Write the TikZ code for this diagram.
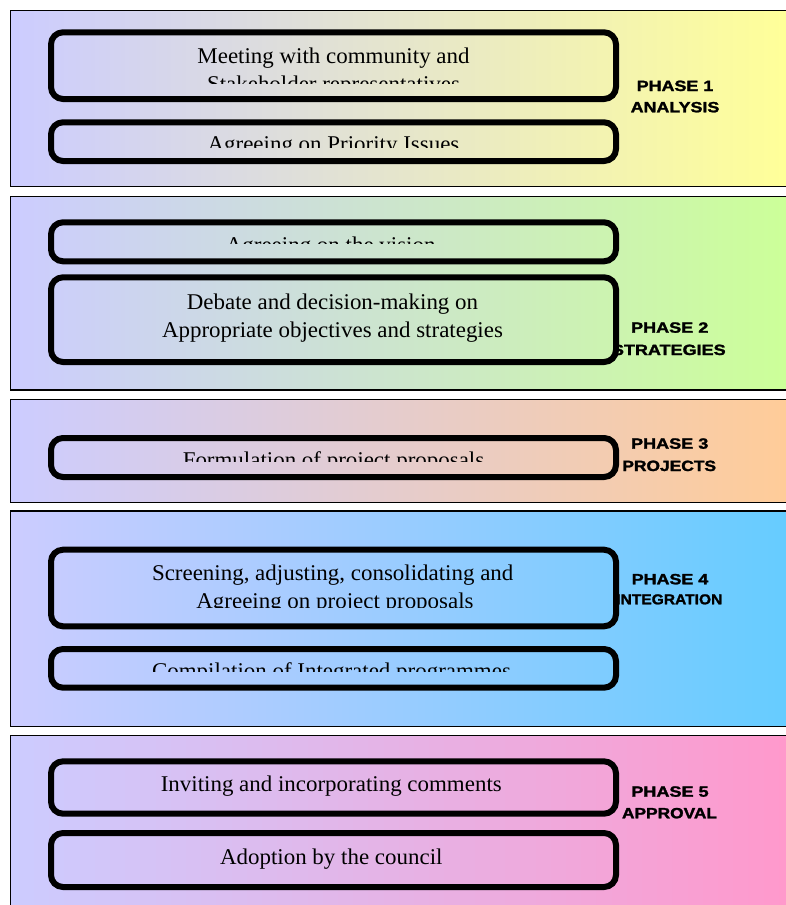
\documentclass[tikz,border=0pt]{standalone}
\usepackage{fontspec}
\usepackage{graphicx}
\setmainfont{Liberation Serif}[FakeStretch=1.02]
\newfontfamily\lblfont{Liberation Sans}[BoldFeatures={FakeBold=1.6}]
\definecolor{lav}{HTML}{CCCCFF}
\definecolor{cA}{HTML}{FFFF99}
\definecolor{cB}{HTML}{CCFF99}
\definecolor{cC}{HTML}{FFCC99}
\definecolor{cD}{HTML}{66CCFF}
\definecolor{cE}{HTML}{FF99CC}
\newcommand\panelshade[3]{%
  \shade[left color=lav,right color=#3] (10.7,#1) rectangle (786,#2);}
\newcommand\phbox[5]{%
  \begin{scope}
    \clip[rounded corners=12] (51,#1) rectangle (616,#2);
    \panelshade{#3}{#4}{#5}
  \end{scope}
  \draw[boxline] (51,#1) rectangle (616,#2);}
\newcommand\lbltext[3]{\resizebox{#1pt}{#2pt}{\lblfont\bfseries #3}}
\begin{document}
\begin{tikzpicture}[x=1pt,y=-1pt,
  boxline/.style={line width=6pt,rounded corners=12},
  panelline/.style={line width=1.3pt,black},
  txt/.style={inner sep=0pt,anchor=base,font=\fontsize{22.5}{28}\selectfont,text=black},
  lbl/.style={inner sep=0pt,anchor=base,text=black}]
\useasboundingbox (0,0) rectangle (786,905);
\clip (0,0) rectangle (786,905);
\fill[white] (0,0) rectangle (786,905);

% ---------- panels ----------
\panelshade{10.5}{186.7}{cA}
\draw[panelline] (800,10.5) -- (10.7,10.5) -- (10.7,186.7) -- (800,186.7);
\panelshade{196.7}{390}{cB}
\draw[panelline] (800,196.7) -- (10.7,196.7) -- (10.7,390) -- (800,390);
\panelshade{399.3}{502.7}{cC}
\draw[panelline] (800,399.3) -- (10.7,399.3) -- (10.7,502.7) -- (800,502.7);
\panelshade{511}{726.7}{cD}
\draw[panelline] (800,511) -- (10.7,511) -- (10.7,726.7) -- (800,726.7);
\panelshade{735.3}{920}{cE}
\draw[panelline] (800,735.3) -- (10.7,735.3) -- (10.7,920);

% ---------- phase labels ----------
\node[lbl] (p1a) at (675,91)    {\lbltext{76.6}{10.4}{PHASE 1}};
\node[lbl] (p1b) at (675,112.3) {\lbltext{88.6}{10.4}{ANALYSIS}};
\node[lbl] (p2a) at (669.7,332.7) {\lbltext{77.3}{10.4}{PHASE 2}};
\node[lbl] (p2b) at (668.8,355)   {\lbltext{113.7}{10.4}{STRATEGIES}};
\node[lbl] (p3a) at (669.7,448.7) {\lbltext{77.3}{10.4}{PHASE 3}};
\node[lbl] (p3b) at (669.2,471)   {\lbltext{93.7}{10.4}{PROJECTS}};
\node[lbl] (p4a) at (670,584.3)   {\lbltext{76.6}{10.4}{PHASE 4}};
\node[lbl] (p4b) at (669.3,604.3) {\lbltext{106}{10}{INTEGRATION}};
\node[lbl] (p5a) at (670,796.7)   {\lbltext{77.3}{10.4}{PHASE 5}};
\node[lbl] (p5b) at (669.5,818.3) {\lbltext{95}{10.4}{APPROVAL}};

% ---------- boxes ----------
\phbox{32.3}{99}{10.5}{186.7}{cA}
\phbox{122.3}{161}{10.5}{186.7}{cA}
\phbox{222.3}{261.3}{196.7}{390}{cB}
\phbox{277.3}{362}{196.7}{390}{cB}
\phbox{438}{477}{399.3}{502.7}{cC}
\phbox{549.7}{626.3}{511}{726.7}{cD}
\phbox{649}{687.7}{511}{726.7}{cD}
\phbox{761.3}{813.7}{735.3}{920}{cE}
\phbox{833}{887}{735.3}{920}{cE}

% ---------- box texts ----------
\begin{scope}
  \clip (54,35) rectangle (613,83.3);
  \node[txt] (t1a) at (333.5,63.3) {Meeting with community and};
  \node[txt] (t1b) at (333.5,91.3) {Stakeholder representatives};
\end{scope}
\begin{scope}
  \clip (54,125) rectangle (613,147.7);
  \node[txt] (t2) at (333.5,151.3) {Agreeing on Priority Issues};
\end{scope}
\begin{scope}
  \clip (54,225) rectangle (613,243.3);
  \node[txt] (t3) at (330.7,252) {Agreeing on the vision};
\end{scope}
\node[txt] (t4a) at (332.5,309) {Debate and decision-making on};
\node[txt] (t4b) at (332.5,337) {Appropriate objectives and strategies};
\begin{scope}
  \clip (54,441) rectangle (613,461.7);
  \node[txt] (t5) at (333.5,467) {Formulation of project proposals};
\end{scope}
\begin{scope}
  \clip (54,553) rectangle (613,607.7);
  \node[txt] (t6a) at (332.7,580.7) {Screening, adjusting, consolidating and};
  \node[txt] (t6b) at (335,608.7) {Agreeing on project proposals};
\end{scope}
\begin{scope}
  \clip (54,652) rectangle (613,671.7);
  \node[txt] (t7) at (331.5,678) {Compilation of Integrated programmes};
\end{scope}
\node[txt] (t8) at (331.3,791) {Inviting and incorporating comments};
\node[txt] (t9) at (331.3,864.3) {Adoption by the council};
\end{tikzpicture}
\end{document}
